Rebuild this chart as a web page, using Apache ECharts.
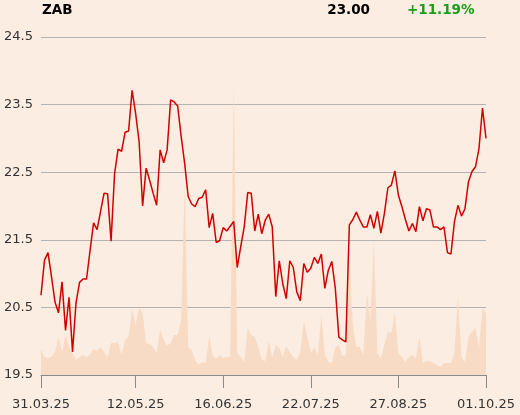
<!DOCTYPE html>
<html><head><meta charset="utf-8">
<script src="https://cdn.jsdelivr.net/npm/echarts@6/dist/echarts.min.js"></script>
<style>html,body{margin:0;padding:0;background:#FBEDE1;}#c{width:520px;height:415px;}</style>
</head><body><div id="c"></div>
<script>
const tickLabels = ['31.03.25','12.05.25','16.06.25','22.07.25','27.08.25','01.10.25'];
const holidays = ['18.04.25','21.04.25','01.05.25','19.06.25','15.08.25'];
const price = [
20.68, 21.20, 21.31, 20.95, 20.58, 20.42, 20.88, 20.16, 20.65, 19.84,
20.57, 20.87, 20.92, 20.92, 21.34, 21.75, 21.65, 21.92, 22.19, 22.18,
21.48, 22.48, 22.84, 22.81, 23.09, 23.11, 23.71, 23.37, 22.95, 22.00,
22.56, 22.38, 22.19, 22.01, 22.83, 22.64, 22.83, 23.57, 23.54, 23.48,
23.03, 22.63, 22.14, 22.03, 21.99, 22.11, 22.13, 22.24, 21.68, 21.89,
21.46, 21.49, 21.68, 21.63, 21.70, 21.77, 21.09, 21.40, 21.69, 22.20,
22.19, 21.63, 21.88, 21.59, 21.79, 21.88, 21.69, 20.66, 21.19, 20.85,
20.63, 21.19, 21.09, 20.73, 20.60, 21.15, 21.02, 21.08, 21.24, 21.15,
21.29, 20.78, 21.05, 21.18, 20.78, 20.06, 20.02, 19.99, 21.72, 21.80,
21.91, 21.79, 21.69, 21.69, 21.87, 21.67, 21.92, 21.60, 21.89, 22.27,
22.31, 22.52, 22.16, 21.99, 21.80, 21.63, 21.74, 21.62, 21.99, 21.78,
21.96, 21.94, 21.69, 21.69, 21.65, 21.69, 21.31, 21.29, 21.77, 22.01,
21.85, 21.96, 22.36, 22.51, 22.58, 22.85, 23.45, 23.00
];
const volume = [
26, 18, 17, 18, 23, 38, 23, 40, 28, 22,
15, 18, 20, 18, 20, 26, 24, 28, 23, 18,
32, 32, 33, 20, 35, 38, 66, 50, 67, 62,
32, 31, 28, 22, 46, 35, 29, 32, 40, 40,
55, 188, 28, 25, 15, 10, 13, 12, 38, 20,
16, 20, 17, 18, 18, 289, 22, 18, 13, 47,
40, 38, 28, 15, 14, 34, 18, 30, 27, 18,
29, 23, 18, 15, 23, 54, 38, 22, 28, 20,
60, 20, 13, 12, 27, 30, 19, 20, 118, 50,
28, 28, 20, 82, 55, 134, 22, 17, 30, 43,
42, 62, 22, 18, 13, 18, 20, 17, 37, 12,
14, 14, 12, 10, 8, 12, 12, 12, 23, 78,
18, 13, 38, 43, 47, 27, 67, 62
];
const lastPrice = '23.00';
const change = '+11.19%';
const ticker = 'ZAB';

// trading-day categories
function fmt(d){const p=n=>String(n).padStart(2,'0');return p(d.getDate())+'.'+p(d.getMonth()+1)+'.'+String(d.getFullYear()).slice(2);}
const dates = [];
for (let d = new Date(2025,2,31); dates.length < price.length; d.setDate(d.getDate()+1)) {
  const wd = d.getDay();
  if (wd === 0 || wd === 6) continue;
  const s = fmt(d);
  if (holidays.includes(s)) continue;
  dates.push(s);
}
const showTick = (i, v) => tickLabels.includes(dates[i]);
const FONT = 'DejaVu Sans';
const chart = echarts.init(document.getElementById('c'), null, {renderer:'canvas'});
chart.setOption({
  backgroundColor: '#FBEDE1',
  animation: false,
  grid: {left: 41, right: 34, top: 37, bottom: 40, containLabel: false},
  graphic: [
    {type:'text', left: 42, top: 3, style:{text: ticker, font: 'bold 13.5px "DejaVu Sans"', fill:'#000'}},
    {type:'text', right: 150, top: 3, style:{text: lastPrice, font: 'bold 13.5px "DejaVu Sans"', fill:'#000'}},
    {type:'text', left: 407, top: 3, style:{text: change, font: 'bold 13.5px "DejaVu Sans"', fill:'#1a9e1a'}}
  ],
  xAxis: {
    type: 'category', data: dates, boundaryGap: false,
    axisLine: {lineStyle: {color: '#8a8a8a', width: 1}},
    axisTick: {show: true, interval: showTick, length: 13, lineStyle: {color: '#8a8a8a'}},
    axisLabel: {interval: showTick, color: '#333', fontFamily: FONT, fontSize: 13, margin: 23, showMinLabel: true, showMaxLabel: true},
    splitLine: {show: false}
  },
  yAxis: [
    {type: 'value', min: 19.5, max: 24.5, interval: 0.5, position: 'left',
     axisLine: {show: false}, axisTick: {show: false},
     axisLabel: {color: '#333', fontFamily: FONT, fontSize: 13, margin: 8, padding: [4, 0, 0, 0],
       formatter: v => (Math.round(v*2) % 2 === 1) ? v.toFixed(1) : ''},
     splitLine: {show: true, lineStyle: {color: ['#b3b3b3', 'rgba(0,0,0,0)'], width: 1}}
    },
    {type: 'value', min: 0, max: 338, show: false, splitLine: {show: false}}
  ],
  series: [
    {type: 'line', data: volume, yAxisIndex: 1, symbol: 'none', silent: true,
     lineStyle: {width: 0}, areaStyle: {color: '#F8DBC4', opacity: 1}, z: 1},
    {type: 'line', data: price, yAxisIndex: 0, symbol: 'none',
     lineStyle: {color: '#D10000', width: 1.5}, z: 3}
  ]
});
</script></body></html>
